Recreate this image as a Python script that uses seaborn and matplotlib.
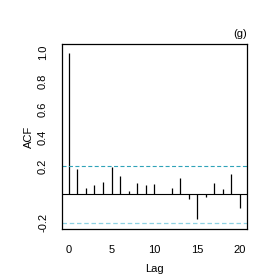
import numpy as np
import pandas as pd
import matplotlib
matplotlib.use("Agg")
import matplotlib.pyplot as plt
import seaborn as sns

# ACF values
lags = list(range(21))
acf = [1.0, 0.179, 0.042, 0.066, 0.085, 0.195, 0.127, 0.021, 0.078, 0.064,
       0.071, 0.004, 0.049, 0.113, -0.033, -0.172, -0.019, 0.082, 0.040, 0.144,
       -0.094]
clim = 0.198
xticks = [0, 5, 10, 15, 20]
yticks = [-0.2, 0.2, 0.4, 0.6, 0.8, 1.0]

df = pd.DataFrame({"lag": lags, "acf": acf})

sns.set_style("white")
plt.rcParams['font.family'] = ['Liberation Sans', 'DejaVu Sans']
plt.rcParams['text.color'] = 'black'
plt.rcParams['axes.labelcolor'] = 'black'
plt.rcParams['xtick.color'] = 'black'
plt.rcParams['ytick.color'] = 'black'

fig = plt.figure(figsize=(2.74, 2.74), dpi=100)
ax = fig.add_axes([0.226, 0.164, 0.675, 0.675])

ax.vlines(df["lag"], 0, df["acf"], color="black", lw=0.9)
ax.axhline(0, color="black", lw=0.8)
ax.axhline(clim, color="#2fa3b8", lw=0.8, linestyle=(0, (3.6, 2.2)))
ax.axhline(-clim, color="#8fd2e3", lw=0.9, linestyle=(0, (3.6, 2.2)))

ax.set_xlim(-0.8, 20.8)
ax.set_ylim(-0.244, 1.06)
ax.set_xticks(xticks)
ax.set_yticks(yticks)
ax.set_yticklabels([f"{v:.1f}" for v in yticks], rotation=90, va="center")
ax.tick_params(axis="both", direction="out", length=6, width=0.6, color="#777777",
               labelsize=8, labelcolor="black")
ax.tick_params(axis="x", pad=5.5)
ax.tick_params(axis="y", pad=4)
for s in ax.spines.values():
    s.set_color("black")
    s.set_linewidth(0.9)

ax.set_xlabel("Lag", fontsize=8, labelpad=6.5)
ax.set_ylabel("ACF", fontsize=8, labelpad=3)
ax.text(1.0, 1.03, "(g)", transform=ax.transAxes, ha="right", va="bottom", fontsize=8)

fig.savefig("out.png", dpi=100)
